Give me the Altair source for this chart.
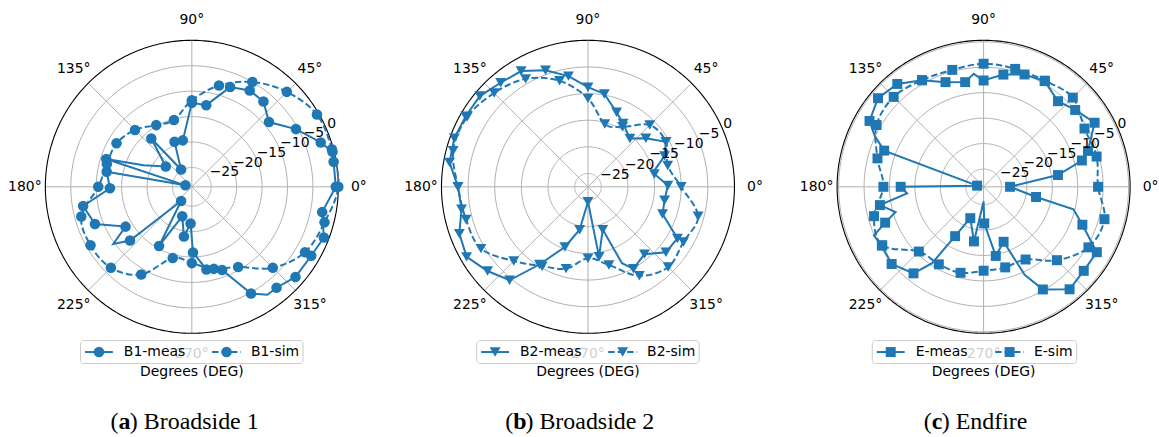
import altair as alt
import pandas as pd

# ---------------------------------------------------------------------------
# Radiation patterns, normalised gain in dB versus azimuth angle in degrees.
# "meas" markers are the measured samples, "bend" points are extra vertices
# of the measured trace that carry no marker; "sim" is sampled every 15 deg.
# ---------------------------------------------------------------------------
SIM_DEG = list(range(0, 360, 15))

b1_sim_db = [0.0, -0.3, -0.4, -2.4, -5.0, -8.2, -11.8, -15.2, -14.8, -13.0, -11.7, -11.5,
             -10.4, -6.3, -5.8, -6.3, -8.9, -14.3, -13.8, -12.1, -10.6, -6.3, -3.1, -1.8]
b1_meas_deg = [0, 10, 14, 19, 29, 40, 50, 59, 69, 80, 90, 101, 111, 122, 130, 142, 162, 167,
               170, 181, 190, 201, 211, 221, 233, 241, 252, 261, 268, 271, 280, 290, 299, 310,
               319, 330, 339, 349]
b1_meas_db = [-0.5, -0.5, -0.3, -2.0, -5.4, -9.0, -6.9, -6.7, -7.8, -12.5, -12.3, -19.5, -19.3,
              -24.8, -16.4, -22.3, -11.1, -27.5, -11.8, -12.7, -7.1, -8.4, -13.6, -12.7, -25.3,
              -15.5, -22.7, -18.9, -21.6, -15.9, -12.3, -11.4, -4.8, -2.9, -1.8, -1.7, -1.0, -2.7]
b1_bend_deg = [156, 216, 305]
b1_bend_db = [-18.4, -9.7, -2.9]

b2_sim_db = [-10.0, -12.0, -10.6, -11.1, -14.5, -15.3, -10.9, -6.9, -4.1, -2.6, -1.3, -1.3,
             -3.1, -3.8, -4.3, -7.8, -10.3, -11.6, -14.1, -12.3, -8.2, -6.2, -6.8, -6.1]
b2_meas_deg = [1, 11, 22, 30, 40, 49, 61, 69, 80, 90, 100, 110, 120, 130, 140, 150, 160, 170,
               180, 190, 200, 210, 220, 230, 238, 249, 259, 270, 279, 289, 299, 310, 320, 330,
               340, 350]
b2_meas_db = [-12.5, -14.8, -12.0, -10.6, -13.3, -15.5, -13.9, -12.5, -9.8, -8.8, -6.4, -4.2,
              -2.4, -2.0, -1.0, -1.0, -0.8, -1.1, -3.1, -3.4, -1.8, -1.2, -2.9, -4.6, -10.3,
              -15.4, -19.3, -24.7, -14.2, -19.0, -9.9, -11.0, -8.4, -8.1, -12.6, -12.9]
b2_bend_deg = [14, 294]
b2_bend_db = [-14.6, -11.8]

e_sim_db = [-6.0, -5.5, -5.6, -3.7, -4.4, -4.5, -4.3, -4.7, -4.3, -3.5, -4.2, -6.9,
            -8.8, -6.2, -5.5, -10.5, -10.9, -11.0, -12.0, -12.1, -12.0, -8.1, -4.7, -3.9]
e_meas_deg = [0, 9, 15, 19, 30, 40, 49, 60, 70, 80, 90, 100, 110, 120, 130, 140, 150, 160, 170,
              180, 190, 200, 210, 220, 231, 240, 247, 260, 271, 280, 290, 300, 310, 320, 330,
              339, 349]
e_meas_db = [-23.3, -13.7, -8.5, -6.8, -3.3, -5.0, -6.2, -4.5, -5.0, -6.1, -7.6, -7.6, -6.6,
             -4.3, -2.1, -1.4, -2.6, -7.7, -27.2, -12.2, -7.8, -7.9, -5.4, -4.9, -6.6, -17.3,
             -21.8, -17.6, -21.3, -14.7, -17.0, -5.2, -2.2, -2.8, -2.8, -7.7, -18.0]
e_bend_deg = [95, 155, 185, 196, 204, 236, 270, 295, 346]
e_bend_db = [-6.2, -4.9, -13.4, -10.5, -4.9, -10.4, -25.6, -9.4, -10.3]

r_ticks = [-25, -20, -15, -10, -5, 0]
theta_ticks = [0, 45, 90, 135, 180, 225, 270, 315]

# ---------------------------------------------------------------------------
BLUE = "#1f77b4"
GRID = "#b0b0b0"
FONT = "DejaVu Sans"
SERIF = "Liberation Serif"
FS = 14
CAP_FS = 24
R = 147.0      # pixel radius of the polar frame
CY = 186.7     # pixel row of the pole
H = 437

panels_cfg = [
    dict(width=397, cx=192.5, rmin=-28.8, rmax=0.0, shape="circle", size=112,
         sim=b1_sim_db, meas=(b1_meas_deg, b1_meas_db), bend=(b1_bend_deg, b1_bend_db),
         names=("B1-meas", "B1-sim"), leg_w=223.3, col2=132.0,
         letter="a", caption="Broadside 1", cap_l=-73.5, cap_r=-62.2),
    dict(width=397, cx=193.0, rmin=-27.5, rmax=0.0, shape="triangle-down", size=120,
         sim=b2_sim_db, meas=(b2_meas_deg, b2_meas_db), bend=(b2_bend_deg, b2_bend_db),
         names=("B2-meas", "B2-sim"), leg_w=223.3, col2=132.0,
         letter="b", caption="Broadside 2", cap_l=-75.0, cap_r=-62.7),
    dict(width=365, cx=193.0, rmin=-28.5, rmax=0.3, shape="square", size=100,
         sim=e_sim_db, meas=(e_meas_deg, e_meas_db), bend=(e_bend_deg, e_bend_db),
         names=("E-meas", "E-sim"), leg_w=205.0, col2=123.3,
         letter="c", caption="Endfire", cap_l=-52.0, cap_r=-42.0),
]


def polar_xy(chart, rmin, rmax):
    span = rmax - rmin
    return chart.transform_calculate(
        rn=f"(datum.db - ({rmin})) / {span}"
    ).transform_calculate(
        x="datum.rn * cos(datum.deg * PI / 180)"
    ).transform_calculate(
        y="datum.rn * sin(datum.deg * PI / 180)"
    )


def one(label):
    return pd.DataFrame({"label": [label]})


def panel(cfg):
    W, cx = cfg["width"], cfg["cx"]
    rmin, rmax = cfg["rmin"], cfg["rmax"]
    xs = alt.Scale(domain=[-cx / R, (W - cx) / R], nice=False, zero=False)
    ys = alt.Scale(domain=[-(H - CY) / R, CY / R], nice=False, zero=False)
    X = alt.X("x:Q", scale=xs, axis=None)
    Y = alt.Y("y:Q", scale=ys, axis=None)

    layers = []

    # grid circles
    rings = [v for v in r_ticks if v < rmax - 1e-9]
    ring_df = pd.DataFrame([{"ring": v, "db": v, "deg": d}
                            for v in rings for d in range(0, 361, 2)])
    layers.append(polar_xy(alt.Chart(ring_df), rmin, rmax).mark_line(
        color=GRID, strokeWidth=1).encode(x=X, y=Y, detail="ring:N", order="deg:Q"))

    # spokes
    spoke_df = pd.DataFrame({"deg": theta_ticks})
    layers.append(alt.Chart(spoke_df).transform_calculate(
        x="0", y="0",
        x2="cos(datum.deg * PI / 180)", y2="sin(datum.deg * PI / 180)"
    ).mark_rule(color=GRID, strokeWidth=1).encode(
        x=X, y=Y, x2=alt.X2("x2:Q"), y2=alt.Y2("y2:Q")))

    # outer frame
    frame_df = pd.DataFrame({"deg": list(range(0, 361)), "db": rmax})
    layers.append(polar_xy(alt.Chart(frame_df), rmin, rmax).mark_line(
        color="black", strokeWidth=1.1).encode(x=X, y=Y, order="deg:Q"))

    # measured trace
    mdeg, mdb = cfg["meas"]
    bdeg, bdb = cfg["bend"]
    meas_pts = pd.DataFrame({"deg": mdeg, "db": mdb})
    meas_line = pd.concat([meas_pts, pd.DataFrame({"deg": bdeg, "db": bdb})]).sort_values("deg")
    layers.append(polar_xy(alt.Chart(meas_line), rmin, rmax).mark_line(
        color=BLUE, strokeWidth=2, interpolate="linear-closed").encode(x=X, y=Y, order="deg:Q"))
    layers.append(polar_xy(alt.Chart(meas_pts), rmin, rmax).mark_point(
        filled=True, shape=cfg["shape"], size=cfg["size"], color=BLUE, opacity=1).encode(x=X, y=Y))

    # simulated trace
    sim_df = pd.DataFrame({"deg": SIM_DEG, "db": cfg["sim"]})
    layers.append(polar_xy(alt.Chart(sim_df), rmin, rmax).mark_line(
        color=BLUE, strokeWidth=2, strokeDash=[6.5, 3],
        interpolate="cardinal-closed").encode(x=X, y=Y, order="deg:Q"))
    layers.append(polar_xy(alt.Chart(sim_df), rmin, rmax).mark_point(
        filled=True, shape=cfg["shape"], size=cfg["size"], color=BLUE, opacity=1).encode(x=X, y=Y))

    # radial tick labels along 22.5 deg
    rl_df = pd.DataFrame({"db": r_ticks,
                          "label": [str(v).replace("-", "\u2212") for v in r_ticks],
                          "deg": 22.5})
    layers.append(polar_xy(alt.Chart(rl_df), rmin, rmax).mark_text(
        font=FONT, fontSize=FS, color="black", align="left", baseline="bottom").encode(
        x=X, y=Y, text="label:N"))

    # angular tick labels
    th_df = pd.DataFrame({"deg": theta_ticks, "label": [f"{d}\u00b0" for d in theta_ticks]})
    layers.append(alt.Chart(th_df).transform_calculate(
        x="1.14 * cos(datum.deg * PI / 180)", y="1.14 * sin(datum.deg * PI / 180)"
    ).mark_text(font=FONT, fontSize=FS, color="black", align="center", baseline="middle").encode(
        x=X, y=Y, text="label:N"))

    # legend
    L = cx - 111.7
    ly = 352.5
    c2 = L + cfg["col2"]
    layers.append(alt.Chart(one("")).mark_rect(
        fill="white", fillOpacity=0.8, stroke="#cccccc", strokeWidth=1, cornerRadius=3).encode(
        x=alt.value(L), x2=alt.value(L + cfg["leg_w"]), y=alt.value(341), y2=alt.value(364)))
    layers.append(alt.Chart(one("")).mark_rule(color=BLUE, strokeWidth=2).encode(
        x=alt.value(L + 4.5), x2=alt.value(L + 32.5), y=alt.value(ly)))
    layers.append(alt.Chart(one("")).mark_point(
        filled=True, shape=cfg["shape"], size=cfg["size"], color=BLUE, opacity=1).encode(
        x=alt.value(L + 18.5), y=alt.value(ly)))
    layers.append(alt.Chart(one(cfg["names"][0])).mark_text(
        font=FONT, fontSize=FS, color="black", align="left", baseline="middle").encode(
        x=alt.value(L + 43.5), y=alt.value(ly), text="label:N"))
    layers.append(alt.Chart(one("")).mark_rule(color=BLUE, strokeWidth=2, strokeDash=[6.5, 3]).encode(
        x=alt.value(c2), x2=alt.value(c2 + 29), y=alt.value(ly)))
    layers.append(alt.Chart(one("")).mark_point(
        filled=True, shape=cfg["shape"], size=cfg["size"], color=BLUE, opacity=1).encode(
        x=alt.value(c2 + 14.5), y=alt.value(ly)))
    layers.append(alt.Chart(one(cfg["names"][1])).mark_text(
        font=FONT, fontSize=FS, color="black", align="left", baseline="middle").encode(
        x=alt.value(c2 + 39), y=alt.value(ly), text="label:N"))

    # axis title
    layers.append(alt.Chart(one("Degrees (DEG)")).mark_text(
        font=FONT, fontSize=FS, color="black", align="center", baseline="middle").encode(
        x=alt.value(cx), y=alt.value(373), text="label:N"))

    # sub-figure caption
    layers.append(alt.Chart(one("(")).mark_text(
        font=SERIF, fontSize=CAP_FS, color="black", align="right", baseline="alphabetic").encode(
        x=alt.value(cx + cfg["cap_l"]), y=alt.value(430), text="label:N"))
    layers.append(alt.Chart(one(cfg["letter"])).mark_text(
        font=SERIF, fontSize=CAP_FS, fontWeight="bold", color="black", align="left",
        baseline="alphabetic").encode(
        x=alt.value(cx + cfg["cap_l"]), y=alt.value(430), text="label:N"))
    layers.append(alt.Chart(one(") " + cfg["caption"])).mark_text(
        font=SERIF, fontSize=CAP_FS, color="black", align="left", baseline="alphabetic").encode(
        x=alt.value(cx + cfg["cap_r"]), y=alt.value(430), text="label:N"))

    return alt.layer(*layers).properties(width=W, height=H)


chart = alt.hconcat(*[panel(c) for c in panels_cfg], spacing=0, bounds="flush").resolve_scale(
    x="independent", y="independent"
).properties(
    padding=0, background="white"
).configure_view(stroke=None)

chart.save("out.html", embed_options={"renderer": "svg", "actions": False})
